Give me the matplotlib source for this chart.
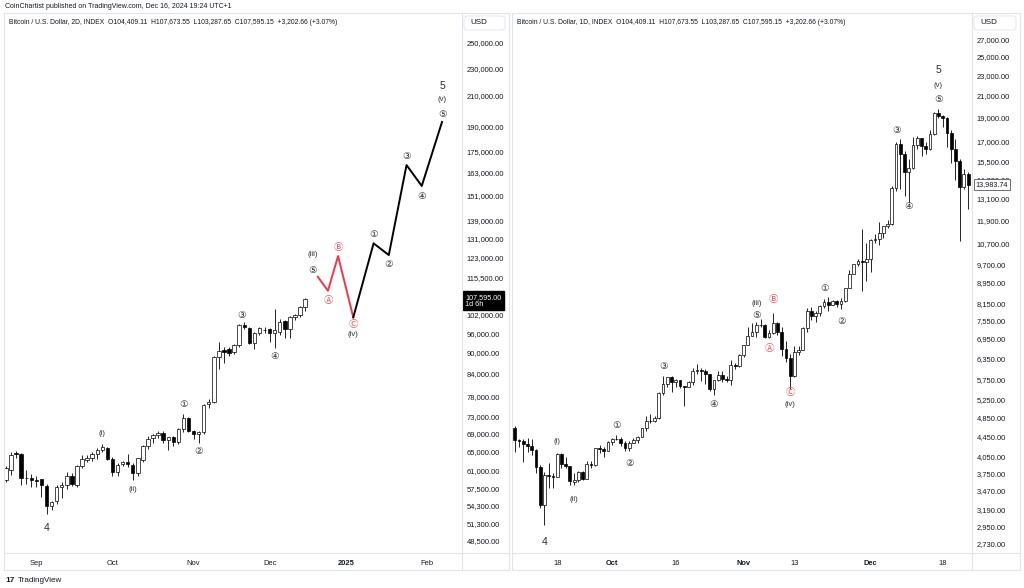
import numpy as np
import pandas as pd
import matplotlib
matplotlib.use('Agg')
import matplotlib.pyplot as plt
import matplotlib.dates as mdates
import matplotlib.transforms as mtransforms
from matplotlib.lines import Line2D
from matplotlib.patches import FancyBboxPatch
from matplotlib.ticker import NullLocator, NullFormatter

plt.rcParams['font.family'] = ['Liberation Sans', 'DejaVu Sans', 'Noto Sans CJK JP']

# ---------------- data ----------------
# left: BTC 2D candles, Aug 19 - Dec 15 2024
l_dates = pd.date_range('2024-08-19', periods=60, freq='2D')
l_open = [59150, 61130, 64700, 64400, 59560, 59500, 59150, 59370, 58030, 54250,
          55110, 57840, 58220, 59950, 58220, 61930, 63170, 63580, 64420, 65290,
          65710, 63370, 60730, 62340, 62750, 62140, 60530, 63170, 66140, 67910,
          68580, 69030, 67480, 68130, 67020, 69950, 72540, 69490, 68810, 69260,
          75960, 76470, 88770, 90820, 91120, 90220, 92330, 98610, 97640, 92940,
          96050, 97000, 97320, 96050, 96360, 99920, 97320, 101250, 101920, 104650]
l_high = [62000, 64800, 65000, 64700, 61130, 60300, 59900, 59400, 58400, 55100,
          58200, 58780, 60800, 60500, 62200, 64200, 64200, 64800, 65700, 66500,
          65900, 63800, 62500, 63000, 64400, 62600, 63600, 66400, 68400, 68900,
          69500, 69500, 68200, 68400, 70200, 73500, 72800, 69800, 69500, 76000,
          77200, 89000, 93240, 91720, 91800, 92700, 99000, 99600, 98000, 96500,
          97900, 97900, 97800, 104000, 100500, 100300, 101600, 102200, 105000, 107900]
l_low = [58800, 60140, 63600, 58200, 58400, 57800, 57840, 55980, 52910, 53600,
         54600, 55800, 57500, 57900, 57840, 61500, 62700, 63000, 63300, 64800,
         63200, 60000, 59900, 61900, 61700, 59150, 60000, 62700, 65500, 66800,
         68000, 66800, 65290, 66100, 66600, 69400, 69200, 67700, 66800, 68900,
         75000, 76200, 85330, 87030, 89000, 89500, 91720, 97200, 92600, 91120,
         95500, 95900, 93240, 91420, 95500, 94480, 94480, 100300, 101200, 103300]
l_close = [61540, 64210, 64400, 59560, 59500, 59150, 59000, 58220, 54250, 54940,
           57840, 58220, 59950, 58400, 61930, 63370, 63580, 64420, 65290, 65920,
           63370, 60730, 62140, 62750, 62340, 60530, 63580, 66140, 67680, 68580,
           69030, 67480, 68130, 67020, 69950, 72540, 69490, 68810, 69260, 75710,
           76470, 88770, 90520, 90220, 89920, 92330, 98610, 97960, 92940, 96050,
           97640, 96900, 96050, 97000, 99590, 97320, 101250, 101920, 104650, 107595]

# projected path (left)
red_dates = ['2024-12-20', '2024-12-24', '2024-12-28', '2025-01-03']
red_price = [115640, 110420, 123800, 101150]
blk_dates = ['2025-01-03', '2025-01-11', '2025-01-17', '2025-01-24', '2025-01-30', '2025-02-07']
blk_price = [101150, 129100, 124220, 167150, 156000, 192700]

# right: BTC 1D candles, Sep 8 - Dec 24 2017
r_dates = pd.date_range('2017-09-08', '2017-12-24', freq='D')
r_open = [4620, 4370, 4360, 4300, 4250, 4180, 3870, 3250, 3730, 3710, 3700, 4100, 3920, 3880, 3620, 3650,
          3790, 3670, 3930, 3900, 4210, 4190, 4160,
          4340, 4400, 4400, 4310, 4220, 4320, 4370, 4440, 4610, 4780, 4760, 4830, 5430, 5640, 5820, 5690,
          5750, 5600, 5570, 5700, 6000, 6010, 5980, 5900, 5510, 5740, 5890, 5770, 5750, 6150, 6130,
          6450, 6740, 7030, 7160, 7390, 7390, 6990, 7120, 7460, 7140, 6620, 6350, 5860, 6540, 6600,
          7290, 7850, 7700, 7790, 8040, 8200, 8070, 8240, 8140, 8250, 8750, 9310, 9730, 9900, 9840,
          9950, 10850, 10920, 11220, 11600, 11670, 13750, 16850, 16050, 14840, 15060, 16730, 17280,
          16690, 16440, 17600, 19340, 19140, 18970, 17710, 16460, 15560, 13830, 14700]
r_high = [4660, 4400, 4390, 4410, 4390, 4190, 3900, 3790, 3940, 3770, 4120, 4120, 4050, 3890, 3760, 3800,
          3800, 3980, 3980, 4220, 4270, 4230, 4360,
          4410, 4470, 4430, 4350, 4360, 4420, 4460, 4630, 4880, 4920, 4880, 5440, 5850, 5840, 5850, 5780,
          5760, 5600, 5720, 6070, 6190, 6060, 6040, 5900, 5760, 5980, 6000, 5850, 6300, 6200, 6470,
          6740, 7300, 7450, 7500, 7600, 7420, 7200, 7780, 7480, 7300, 6850, 6480, 6700, 6700, 7320,
          7980, 8000, 7850, 8100, 8300, 8370, 8290, 8270, 8340, 8750, 9480, 9730, 9990, 11400, 10700,
          10900, 11150, 11800, 11600, 11900, 13880, 17000, 17200, 16300, 15700, 17400, 17450, 17300,
          16950, 17900, 19420, 19700, 19200, 19000, 17900, 17200, 15700, 15000, 14800]
r_low = [4140, 4230, 3960, 4150, 4090, 3760, 3210, 2970, 3520, 3520, 3700, 3850, 3850, 3570, 3560, 3620,
         3640, 3660, 3860, 3890, 4130, 4040, 4160,
         4270, 4370, 4260, 4170, 4160, 4310, 4320, 4430, 4560, 4720, 4740, 4820, 5380, 5570, 5450, 5580,
         5530, 5110, 5560, 5620, 5910, 5720, 5650, 5460, 5380, 5730, 5700, 5690, 5620, 6030, 6100,
         6380, 6740, 7030, 6990, 7300, 6950, 6970, 7080, 7040, 6420, 6230, 5510, 5840, 6430, 6600,
         7140, 7550, 7470, 7700, 7960, 7850, 8070, 8020, 7950, 8180, 8740, 9310, 9650, 8600, 9000,
         9400, 10700, 10600, 10950, 11500, 11650, 13600, 13700, 13300, 12900, 15020, 16460, 15900,
         16050, 16400, 17550, 18900, 18200, 16600, 15400, 14300, 10800, 13700, 12500]
r_close = [4370, 4360, 4300, 4250, 4180, 3870, 3250, 3730, 3710, 3700, 4100, 3920, 3880, 3630, 3650, 3790,
           3670, 3930, 3900, 4210, 4190, 4160, 4340,
           4400, 4400, 4310, 4220, 4320, 4370, 4440, 4610, 4780, 4760, 4830, 5430, 5640, 5820, 5690, 5750,
           5600, 5570, 5700, 6000, 6010, 5980, 5900, 5510, 5740, 5890, 5770, 5750, 6150, 6130, 6450,
           6740, 7030, 7160, 7390, 7390, 6990, 7120, 7460, 7140, 6620, 6350, 5860, 6540, 6600, 7290,
           7850, 7700, 7790, 8040, 8200, 8070, 8240, 8140, 8250, 8750, 9310, 9730, 9900, 9840, 9950,
           10850, 10920, 11220, 11600, 11670, 13750, 16850, 16050, 14840, 15060, 16730, 17280, 16690,
           16440, 17600, 19340, 19140, 18970, 17710, 16460, 15560, 13830, 14700, 13983.74]

# price scale labels
l_yticks = [250000, 230000, 210000, 190000, 175000, 163000, 151000, 139000, 131000, 123000, 115500,
            102000, 96000, 90000, 84000, 78000, 73000, 69000, 65000, 61000, 57500, 54300, 51300, 48500]
r_yticks = [27000, 25000, 23000, 21000, 19000, 17000, 15500, 14300, 13100, 11900, 10700, 9700, 8950,
            8150, 7550, 6950, 6350, 5750, 5250, 4850, 4450, 4050, 3750, 3470, 3190, 2950, 2730]

# time scale labels
l_xticks = ['2024-08-31', '2024-09-30', '2024-11-01', '2024-12-01', '2024-12-31', '2025-02-01']
l_xlabels = ['Sep', 'Oct', 'Nov', 'Dec', '2025', 'Feb']
r_xticks = ['2017-09-18', '2017-10-01', '2017-10-16', '2017-11-01', '2017-11-13', '2017-12-01', '2017-12-18']
r_xlabels = ['18', 'Oct', '16', 'Nov', '13', 'Dec', '18']

# wave labels: text, date, price, red?
l_waves = [('4', '2024-09-04', 50480, 0), ('(i)', '2024-09-26', 69030, 0), ('(ii)', '2024-10-08', 57230, 0),
           ('①', '2024-10-28', 75960, 0), ('②', '2024-11-03', 65080, 0), ('③', '2024-11-20', 101920, 0),
           ('④', '2024-12-03', 88770, 0), ('(iii)', '2024-12-18', 124630, 0), ('⑤', '2024-12-18', 118220, 0),
           ('Ⓐ', '2024-12-24', 107090, 1), ('Ⓑ', '2024-12-28', 127530, 1), ('Ⓒ', '2025-01-03', 98940, 1),
           ('(iv)', '2025-01-03', 95700, 0), ('①', '2025-01-11', 133130, 0), ('②', '2025-01-17', 120580, 0),
           ('③', '2025-01-24', 172200, 0), ('④', '2025-01-30', 150900, 0), ('⑤', '2025-02-07', 197800, 0),
           ('(v)', '2025-02-07', 207200, 0), ('5', '2025-02-07', 216600, 0)]
r_waves = [('4', '2017-09-15', 2750, 0), ('(i)', '2017-09-18', 4354, 0), ('(ii)', '2017-09-22', 3330, 0),
           ('①', '2017-10-02', 4683, 0), ('②', '2017-10-05', 3939, 0), ('③', '2017-10-13', 6099, 0),
           ('④', '2017-10-25', 5130, 0), ('(iii)', '2017-11-04', 8157, 0), ('⑤', '2017-11-04', 7724, 0),
           ('Ⓐ', '2017-11-07', 6648, 1), ('Ⓑ', '2017-11-08', 8307, 1), ('Ⓒ', '2017-11-12', 5418, 1),
           ('(iv)', '2017-11-12', 5150, 0), ('①', '2017-11-20', 8700, 0), ('②', '2017-11-24', 7516, 0),
           ('③', '2017-12-07', 17925, 0), ('④', '2017-12-10', 12630, 0), ('⑤', '2017-12-17', 20640, 0),
           ('(v)', '2017-12-17', 22000, 0), ('5', '2017-12-17', 23550, 0)]

header_l = 'Bitcoin / U.S. Dollar, 2D, INDEX  O104,409.11  H107,673.55  L103,287.65  C107,595.15  +3,202.66 (+3.07%)'
header_r = 'Bitcoin / U.S. Dollar, 1D, INDEX  O104,409.11  H107,673.55  L103,287.65  C107,595.15  +3,202.66 (+3.07%)'

# ---------------- drawing ----------------
W, H = 1024, 588
TXT = '#131722'
GRID = '#e0e3eb'
RED = '#f7525f'

fig = plt.figure(figsize=(W / 100, H / 100), dpi=100)


def box(x0, y0, x1, y1):
    return [x0 / W, 1 - y1 / H, (x1 - x0) / W, (y1 - y0) / H]


def hline(x0, x1, y):
    fig.add_artist(Line2D([x0 / W, x1 / W], [1 - y / H, 1 - y / H], color=GRID, lw=0.8))


def vline(x, y0, y1):
    fig.add_artist(Line2D([x / W, x / W], [1 - y0 / H, 1 - y1 / H], color=GRID, lw=0.8))


def candles(ax, dates, o, h, l, c, width):
    x = mdates.date2num(dates)
    o, h, l, c = map(np.asarray, (o, h, l, c))
    ax.vlines(x, l, h, color='black', lw=0.6, zorder=2)
    colors = np.where(c >= o, 'white', 'black')
    ax.bar(x, np.abs(c - o), width, np.minimum(o, c), color=colors, edgecolor='black', lw=0.5, zorder=3)


def style(ax, yticks, xticks, xlabels, bold):
    ax.set_yscale('log')
    ax.set_yticks(yticks)
    ax.set_yticklabels(['{:,.2f}'.format(v) for v in yticks])
    ax.yaxis.set_minor_locator(NullLocator())
    ax.yaxis.set_minor_formatter(NullFormatter())
    ax.yaxis.tick_right()
    ax.tick_params(axis='y', length=0, pad=3.5, labelsize=5.4, labelcolor=TXT)
    ax.set_xticks(mdates.date2num(pd.to_datetime(xticks)))
    ax.set_xticklabels(xlabels)
    ax.tick_params(axis='x', length=0, pad=5, labelsize=5.4, labelcolor=TXT)
    for t in ax.get_xticklabels():
        if t.get_text() in bold:
            t.set_fontweight('bold')
    for s in ax.spines.values():
        s.set_visible(False)


def waves(ax, items):
    for txt, d, p, red in items:
        if txt in ('4', '5'):
            size = 7.5
        elif txt.startswith('('):
            size = 5.6
        else:
            size = 6.8
        ax.text(mdates.date2num(pd.Timestamp(d)), p, txt, ha='center', va='center',
                fontsize=size, color=RED if red else '#2a2e39', zorder=5)


# left panel
ax1 = fig.add_axes(box(5, 13, 462, 553))
candles(ax1, l_dates, l_open, l_high, l_low, l_close, 1.35)
ax1.plot(mdates.date2num(pd.to_datetime(red_dates)), red_price, color='#f23645', lw=1.4, zorder=4)
ax1.plot(mdates.date2num(pd.to_datetime(blk_dates)), blk_price, color='black', lw=1.4, zorder=4)
ax1.set_xlim(mdates.date2num(pd.Timestamp('2024-08-18 15:00')), mdates.date2num(pd.Timestamp('2025-02-14 21:00')))
ax1.set_ylim(46490, 276000)
style(ax1, l_yticks, l_xticks, l_xlabels, ['2025'])
waves(ax1, l_waves)

# right panel
ax2 = fig.add_axes(box(512, 13, 972, 553))
candles(ax2, r_dates, r_open, r_high, r_low, r_close, 0.66)
ax2.set_xlim(mdates.date2num(pd.Timestamp('2017-09-07 08:00')), mdates.date2num(pd.Timestamp('2017-12-24 22:00')))
ax2.set_ylim(2616, 30530)
style(ax2, r_yticks, r_xticks, r_xlabels, ['Oct', 'Nov', 'Dec'])
waves(ax2, r_waves)

# last price labels
tr1 = mtransforms.blended_transform_factory(ax1.transAxes, ax1.transData)
ax1.annotate('{:,.2f}\n1d 6h'.format(l_close[-1]), xy=(1, l_close[-1]), xycoords=tr1,
             xytext=(2.5, 3.6), textcoords='offset points', ha='left', va='top', fontsize=5.2,
             color='white', linespacing=1.0, annotation_clip=False, zorder=10,
             bbox=dict(boxstyle='square,pad=0.35', fc='black', ec='black'))
tr2 = mtransforms.blended_transform_factory(ax2.transAxes, ax2.transData)
ax2.annotate('{:,.2f}'.format(r_close[-1]), xy=(1, r_close[-1]), xycoords=tr2,
             xytext=(2.5, 0), textcoords='offset points', ha='left', va='center', fontsize=5.2,
             color=TXT, annotation_clip=False, zorder=10,
             bbox=dict(boxstyle='square,pad=0.25', fc='white', ec='#555555', lw=0.6))

# frames
for x0, xa, x1 in ((4, 462, 509), (512, 972, 1020)):
    vline(x0, 13, 570)
    vline(xa, 13, 570)
    vline(x1, 13, 570)
    hline(x0, x1, 13)
    hline(x0, x1, 553)
    hline(x0, x1, 570)
    fig.add_artist(FancyBboxPatch(((xa + 2) / W, 1 - 30 / H), (x1 - xa - 6) / W, 14 / H,
                                  boxstyle='round,pad=0,rounding_size=0.004', fc='white', ec=GRID, lw=0.6,
                                  transform=fig.transFigure))
    fig.text((xa + 8) / W, 1 - 23 / H, 'USD', fontsize=5.8, color=TXT, va='center')

# texts
fig.text(5 / W, 1 - 6 / H, 'CoinChartist published on TradingView.com, Dec 16, 2024 19:24 UTC+1',
         fontsize=5.0, color=TXT, va='center')
fig.text(9 / W, 1 - 22 / H, header_l, fontsize=4.9, color=TXT, va='center')
fig.text(517 / W, 1 - 22 / H, header_r, fontsize=4.9, color=TXT, va='center')
fig.text(5 / W, 1 - 580 / H, '17', fontsize=6, fontweight='bold', color=TXT, va='center')
fig.text(18 / W, 1 - 580 / H, 'TradingView', fontsize=5.8, color=TXT, va='center')

fig.savefig('out.png', dpi=100, facecolor='white')
